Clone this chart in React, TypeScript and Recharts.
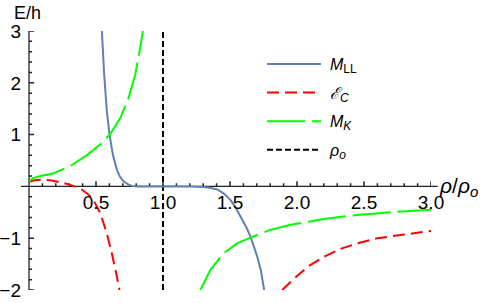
import React from 'react';
import { LineChart, Line, XAxis, YAxis, ReferenceLine, ReferenceDot, Legend } from 'recharts';

// ---- data ----
const mllX = [0.544, 0.561, 0.581, 0.601, 0.626, 0.656, 0.68, 0.705, 0.74, 0.768, 0.8, 1.0, 1.2, 1.3, 1.35, 1.404, 1.45, 1.503, 1.54, 1.578, 1.62, 1.653, 1.703, 1.73, 1.755];
const mllY = [3.0, 2.16, 1.45, 1.0, 0.61, 0.32, 0.18, 0.1, 0.04, 0.01, 0.0, 0.0, 0.0, -0.01, -0.025, -0.06, -0.13, -0.26, -0.4, -0.58, -0.78, -0.97, -1.35, -1.62, -2.0];

const ecLeftX = [0, 0.04, 0.082, 0.13, 0.18, 0.25, 0.307, 0.35, 0.394, 0.44, 0.48, 0.531, 0.58, 0.618, 0.656, 0.675];
const ecLeftY = [0.09, 0.12, 0.13, 0.125, 0.11, 0.07, 0.03, -0.01, -0.06, -0.15, -0.26, -0.51, -0.9, -1.29, -1.74, -2.0];
const ecRightX = [1.89, 1.95, 2.0, 2.08, 2.2, 2.33, 2.45, 2.6, 2.8, 3.0];
const ecRightY = [-2.0, -1.85, -1.73, -1.55, -1.36, -1.2, -1.1, -1.0, -0.93, -0.86];

const mkLeftX = [0, 0.03, 0.1, 0.18, 0.307, 0.43, 0.531, 0.606, 0.681, 0.743, 0.793, 0.825, 0.85];
const mkLeftY = [0.1, 0.16, 0.21, 0.25, 0.39, 0.6, 0.81, 1.01, 1.32, 1.71, 2.16, 2.61, 3.0];
const mkRightX = [1.279, 1.354, 1.453, 1.553, 1.653, 1.8, 1.952, 2.2, 2.45, 2.7, 3.0];
const mkRightY = [-2.0, -1.61, -1.29, -1.1, -0.99, -0.84, -0.74, -0.63, -0.55, -0.5, -0.45];

const rhoO = 1.0;

const xMajorTicks = [0.5, 1.0, 1.5, 2.0, 2.5, 3.0];
const xMajorLabels = ['0.5', '1.0', '1.5', '2.0', '2.5', '3.0'];
const xMinorTicks = [0.1, 0.2, 0.3, 0.4, 0.6, 0.7, 0.8, 0.9, 1.1, 1.2, 1.3, 1.4, 1.6, 1.7, 1.8, 1.9, 2.1, 2.2, 2.3, 2.4, 2.6, 2.7, 2.8, 2.9];
const yMajorTicks = [-2, -1, 1, 2, 3];
const yMajorLabels = ['\u22122', '\u22121', '1', '2', '3'];
const yMinorTicks = [-1.8, -1.6, -1.4, -1.2, -0.8, -0.6, -0.4, -0.2, 0.2, 0.4, 0.6, 0.8, 1.2, 1.4, 1.6, 1.8, 2.2, 2.4, 2.6, 2.8];

const legendNames = ['M', '\u2130', 'M', '\u03C1'];
const legendSubs = ['LL', 'C', 'K', 'o'];

// ---- styling ----
const FONT = '"Liberation Sans", Arial, sans-serif';
const AXIS = '#222222';
const BLUE = '#5E81B5';
const RED = '#FF0000';
const GREEN = '#00FF00';
const colors = [BLUE, RED, GREEN, '#000000'];
const dashes = ['', '12 6', '38 7', '6 3'];

const zip = (xs: number[], ys: number[]) => xs.map((x, i) => ({ x, y: ys[i] }));

const mllData = zip(mllX, mllY);
const ecData = [...zip(ecLeftX, ecLeftY), { x: 1.3, y: null }, ...zip(ecRightX, ecRightY)];
const mkData = [...zip(mkLeftX, mkLeftY), { x: 1.1, y: null }, ...zip(mkRightX, mkRightY)];

// tick marks as short segments in data units (major / minor length)
const X_MAJ = 0.1, X_MIN = 0.06, Y_MAJ = 0.038, Y_MIN = 0.023;
const xTickSegs = (ts: number[], len: number) =>
  ts.flatMap((t) => [{ x: t, y: 0 }, { x: t, y: len }, { x: t, y: null }]);
const yTickSegs = (ts: number[], len: number) =>
  ts.flatMap((t) => [{ x: 0, y: t }, { x: len, y: t }, { x: len, y: null }]);
const tickData = [
  ...xTickSegs(xMajorTicks, X_MAJ),
  ...xTickSegs(xMinorTicks, X_MIN),
  ...yTickSegs(yMajorTicks, Y_MAJ),
  ...yTickSegs(yMinorTicks, Y_MIN),
];

const LegendBox = () => (
  <svg width={130} height={115} style={{ overflow: 'visible' }}>
    {legendNames.map((n, i) => {
      const y = 16 + i * 28.6;
      return (
        <g key={i}>
          <line x1={5} x2={59} y1={y} y2={y} stroke={colors[i]} strokeWidth={2} strokeDasharray={dashes[i] || undefined} />
          <text x={68} y={y + 6} fontFamily={FONT} fontSize={16} fill="#000">
            <tspan fontStyle="italic">{n}</tspan>
            <tspan dy={3} fontSize={12} fontStyle={i === 0 ? 'normal' : 'italic'}>{legendSubs[i]}</tspan>
          </text>
        </g>
      );
    })}
  </svg>
);

export default function App() {
  return (
    <div style={{ position: 'absolute', left: 0, top: 0, width: 491, height: 303, background: '#fff', fontFamily: FONT }}>
      <LineChart width={491} height={303} margin={{ top: 31, right: 60, bottom: 13, left: 29 }}>
        <XAxis type="number" dataKey="x" domain={[0, 3]} allowDataOverflow hide />
        <YAxis type="number" dataKey="y" domain={[-2, 3]} allowDataOverflow hide />

        {/* axes */}
        <ReferenceLine segment={[{ x: -0.06, y: 0 }, { x: 3.05, y: 0 }]} stroke={AXIS} strokeWidth={1.3} ifOverflow="visible" />
        <ReferenceLine segment={[{ x: 0, y: -2 }, { x: 0, y: 3 }]} stroke={AXIS} strokeWidth={1.3} ifOverflow="visible" />
        <Line data={tickData} dataKey="y" stroke={AXIS} strokeWidth={1.5} dot={false} isAnimationActive={false} type="linear" legendType="none" />
        {xMajorTicks.map((t, i) => (
          <ReferenceDot
            key={'xM' + t}
            x={t}
            y={0}
            r={0}
            fill="none"
            stroke="none"
            ifOverflow="visible"
            label={{ value: xMajorLabels[i], position: 'bottom', offset: 9, fill: '#000', fontSize: 19, fontFamily: FONT }}
          />
        ))}
        {yMajorTicks.map((t, i) => (
          <ReferenceDot
            key={'yM' + t}
            x={0}
            y={t}
            r={0}
            fill="none"
            stroke="none"
            ifOverflow="visible"
            label={{ value: yMajorLabels[i], position: 'left', offset: 8, fill: '#000', fontSize: 19, fontFamily: FONT }}
          />
        ))}

        <ReferenceLine segment={[{ x: rhoO, y: -2 }, { x: rhoO, y: 3 }]} stroke="#000" strokeWidth={2} strokeDasharray="6 3" ifOverflow="visible" />

        <Line data={mllData} dataKey="y" stroke={BLUE} strokeWidth={2} dot={false} isAnimationActive={false} type="linear" />
        <Line data={ecData} dataKey="y" stroke={RED} strokeWidth={2} strokeDasharray="12 6" dot={false} isAnimationActive={false} type="linear" />
        <Line data={mkData} dataKey="y" stroke={GREEN} strokeWidth={2} strokeDasharray="38 7" dot={false} isAnimationActive={false} type="linear" />

        <Legend
          layout="horizontal"
          verticalAlign="middle"
          align="center"
          wrapperStyle={{ left: 262, top: 48, width: 130, height: 115 }}
          content={() => <LegendBox />}
        />
      </LineChart>
      <svg width={491} height={303} style={{ position: 'absolute', left: 0, top: 0, pointerEvents: 'none' }}>
        <text x={14} y={19} fontFamily={FONT} fontSize={18} fill="#000">E/h</text>
        <text x={440} y={193} fontFamily={FONT} fontSize={21} fill="#000">
          <tspan fontStyle="italic">{'\u03C1'}</tspan>
          <tspan>/</tspan>
          <tspan fontStyle="italic">{'\u03C1'}</tspan>
          <tspan dy={4} fontSize={15} fontStyle="italic">o</tspan>
        </text>
      </svg>
    </div>
  );
}
